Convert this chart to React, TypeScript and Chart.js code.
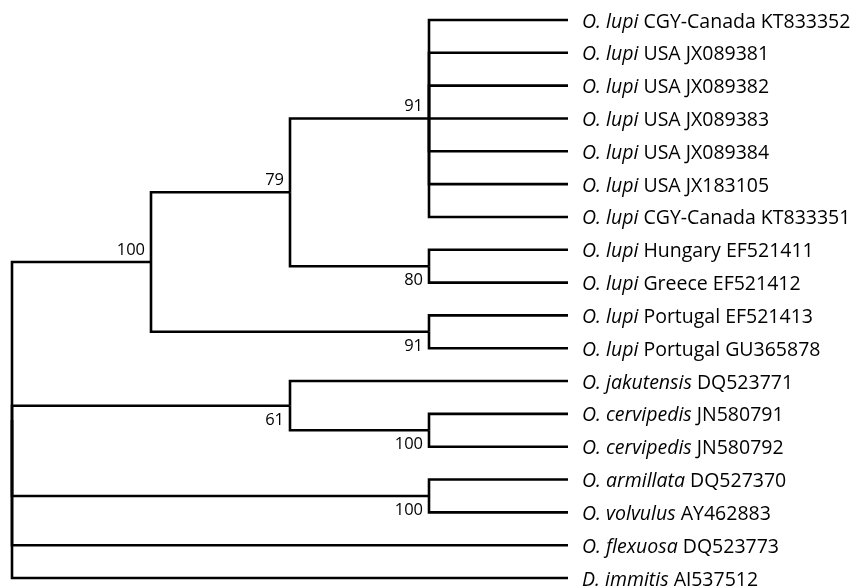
import React, { useEffect, useRef } from "react";
import { Chart, registerables } from "chart.js";

Chart.register(...registerables);

// Leaf labels (top to bottom): italic taxon name + accession/locality
const leafGenus = [
  "O. lupi", "O. lupi", "O. lupi", "O. lupi", "O. lupi", "O. lupi", "O. lupi",
  "O. lupi", "O. lupi", "O. lupi", "O. lupi",
  "O. jakutensis", "O. cervipedis", "O. cervipedis",
  "O. armillata", "O. volvulus", "O. flexuosa", "D. immitis",
];
const leafRest = [
  "CGY-Canada KT833352", "USA JX089381", "USA JX089382", "USA JX089383",
  "USA JX089384", "USA JX183105", "CGY-Canada KT833351",
  "Hungary EF521411", "Greece EF521412", "Portugal EF521413", "Portugal GU365878",
  "DQ523771", "JN580791", "JN580792", "DQ527370", "AY462883", "DQ523773", "AJ537512",
];
// Parent internal node of each leaf
const leafParent = [3, 3, 3, 3, 3, 3, 3, 4, 4, 5, 5, 6, 7, 7, 8, 8, 0, 0];
const leafDepth = 4;

// Internal nodes (0 = root)
const nodeDepth = [0, 1, 2, 3, 3, 3, 2, 3, 3];
const nodeParent = [-1, 0, 1, 2, 2, 1, 0, 6, 0];
const nodeSupport = ["", "100", "79", "91", "80", "91", "61", "100", "100"];
const supportBelow = [false, false, false, false, true, true, true, true, true];

const FONT = '"Open Sans", "Noto Sans", sans-serif';

function computeNodeY(): number[] {
  const ys: number[] = new Array(nodeDepth.length).fill(0);
  for (let n = nodeDepth.length - 1; n >= 0; n--) {
    const childYs: number[] = [];
    leafParent.forEach((p, i) => { if (p === n) childYs.push(i); });
    nodeParent.forEach((p, j) => { if (p === n) childYs.push(ys[j]); });
    ys[n] = (Math.min(...childYs) + Math.max(...childYs)) / 2;
  }
  return ys;
}

export default function App() {
  const ref = useRef<HTMLCanvasElement | null>(null);

  useEffect(() => {
    if (!ref.current) return;
    const nodeY = computeNodeY();
    const datasets: any[] = [];
    const seg = (px: number, py: number, cx: number, cy: number) => ({
      data: [{ x: px, y: py }, { x: px, y: cy }, { x: cx, y: cy }],
      showLine: true,
      borderColor: "#000",
      borderWidth: 2.6,
      pointRadius: 0,
      pointHoverRadius: 0,
      fill: false,
      tension: 0,
      clip: false,
      borderJoinStyle: "miter",
    });
    nodeParent.forEach((p, j) => {
      if (p >= 0) datasets.push(seg(nodeDepth[p], nodeY[p], nodeDepth[j], nodeY[j]));
    });
    leafParent.forEach((p, i) => {
      datasets.push(seg(nodeDepth[p], nodeY[p], leafDepth, i));
    });

    const labelPlugin = {
      id: "treeLabels",
      afterDatasetsDraw(chart: any) {
        const { ctx, scales } = chart;
        const xs = scales.x, ys = scales.y;
        ctx.save();
        ctx.fillStyle = "#000";
        // leaf labels
        ctx.textBaseline = "alphabetic";
        ctx.textAlign = "left";
        leafGenus.forEach((g, i) => {
          const x = xs.getPixelForValue(leafDepth) + 14;
          const y = ys.getPixelForValue(i) + 7.5;
          ctx.font = `italic 19.5px ${FONT}`;
          ctx.fillText(g, x, y);
          const w = ctx.measureText(g + " ").width;
          ctx.font = `19.5px ${FONT}`;
          ctx.fillText(leafRest[i], x + w, y);
        });
        // support values
        ctx.font = `16.5px ${FONT}`;
        ctx.textAlign = "right";
        nodeSupport.forEach((s, n) => {
          if (!s) return;
          const x = xs.getPixelForValue(nodeDepth[n]) - 6;
          const yc = ys.getPixelForValue(nodeY[n]);
          const y = supportBelow[n] ? yc + 19 : yc - 7;
          ctx.fillText(s, x, y);
        });
        ctx.restore();
      },
    };

    const chart = new Chart(ref.current, {
      type: "scatter",
      data: { datasets },
      options: {
        animation: false,
        responsive: true,
        maintainAspectRatio: false,
        events: [],
        layout: { padding: { left: 12, right: 286, top: 20, bottom: 8 } },
        plugins: { legend: { display: false }, tooltip: { enabled: false } },
        scales: {
          x: { type: "linear", min: 0, max: leafDepth, display: false },
          y: { type: "linear", min: 0, max: leafGenus.length - 1, reverse: true, display: false },
        },
      },
      plugins: [labelPlugin],
    });
    return () => chart.destroy();
  }, []);

  return (
    <div style={{ position: "fixed", left: 0, top: 0, width: 854, height: 586, background: "#fff" }}>
      <canvas ref={ref} />
    </div>
  );
}
